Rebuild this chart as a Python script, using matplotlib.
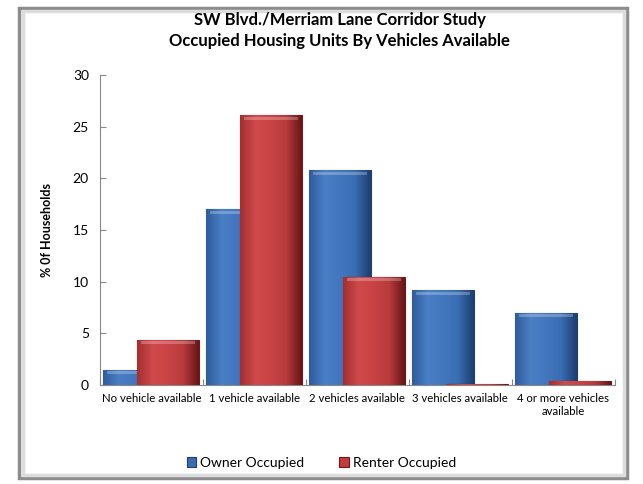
import matplotlib.pyplot as plt
from matplotlib.patches import Rectangle
from matplotlib.colors import LinearSegmentedColormap
import numpy as np

plt.rcParams['font.family'] = ['Lato', 'DejaVu Sans']

categories = ['No vehicle available', '1 vehicle available', '2 vehicles available',
              '3 vehicles available', '4 or more vehicles\navailable']
owner = [1.5, 17.0, 20.8, 9.2, 7.0]
renter = [4.4, 26.1, 10.5, 0.1, 0.4]

blue_cmap = LinearSegmentedColormap.from_list(
    'b', ['#2f5c9c', '#4a7fc6', '#4277bf', '#3a6db2', '#1d3f72'])
red_cmap = LinearSegmentedColormap.from_list(
    'r', ['#a52f31', '#d04a4c', '#c94345', '#b93a3c', '#6a1618'])

fig = plt.figure(figsize=(6.43, 4.84), dpi=100)
# grey shadowed frame round the chart
fig.patches.append(Rectangle((0.03, 0.012), 0.945, 0.972, transform=fig.transFigure,
                             fill=False, edgecolor='#8c8c8c', linewidth=2.5, zorder=0))
fig.patches.append(Rectangle((0.035, 0.019), 0.935, 0.958, transform=fig.transFigure,
                             fill=False, edgecolor='#dcdcdc', linewidth=2.5, zorder=0))

ax = fig.add_axes([0.1555, 0.2045, 0.8005, 0.6405])
x = np.arange(len(categories))
w = 0.6
b1 = ax.bar(x - 0.17, owner, w, color='#3b6db3', edgecolor='#1f3f70', linewidth=0.8,
            zorder=2, label='Owner Occupied')
b2 = ax.bar(x + 0.16, renter, w, color='#c23b3d', edgecolor='#6e1a1c', linewidth=0.8,
            zorder=3, label='Renter Occupied')

# shaded look for each bar
grad = np.linspace(0, 1, 64).reshape(1, -1)
for bars, cmap, z in [(b1, blue_cmap, 2.1), (b2, red_cmap, 3.1)]:
    for p in bars:
        x0, y0 = p.get_x(), p.get_y()
        im = ax.imshow(grad, cmap=cmap, aspect='auto', zorder=z,
                       extent=[x0, x0 + p.get_width(), y0, y0 + p.get_height()])
        im.set_clip_path(p)
        top = p.get_height()
        if top > 1:
            ax.add_patch(Rectangle((x0 + 0.04, top - 0.45), p.get_width() - 0.08, 0.3,
                                   color='white', alpha=0.25, zorder=z + 0.05, lw=0))

ax.set_xlim(-0.5, len(categories) - 0.5)
ax.set_ylim(0, 30)
ax.set_yticks(range(0, 31, 5))
ax.set_xticks(np.arange(-0.5, len(categories), 1.0), minor=False)
ax.set_xticklabels([])
ax.set_xticks(x, minor=True)
ax.set_xticklabels(categories, minor=True, fontsize=8.2)
ax.tick_params(axis='x', which='minor', length=0, pad=6)
ax.tick_params(axis='x', which='major', length=4, color='#888888', direction='in')
ax.tick_params(axis='y', labelsize=10, length=4, color='#888888', direction='in', pad=8)
for lab in ax.get_xticklabels(minor=True):
    lab.set_multialignment('center')

for s in ['top', 'right']:
    ax.spines[s].set_visible(False)
ax.spines['left'].set_color('#888888')
ax.spines['bottom'].set_color('#888888')

ax.set_ylabel('% 0f Households', fontsize=9, fontweight='bold', labelpad=14)
fig.text(0.528, 0.958, 'SW Blvd./Merriam Lane Corridor Study', ha='center', va='center',
         fontsize=12, fontweight='bold')
fig.text(0.528, 0.915, 'Occupied Housing Units By Vehicles Available', ha='center',
         va='center', fontsize=12, fontweight='bold')

fig.legend(loc='center', bbox_to_anchor=(0.5, 0.043), ncol=2, frameon=False,
           fontsize=10, handlelength=0.7, handleheight=0.7, handletextpad=0.3,
           columnspacing=2.5)

plt.savefig('out.png', dpi=100)
